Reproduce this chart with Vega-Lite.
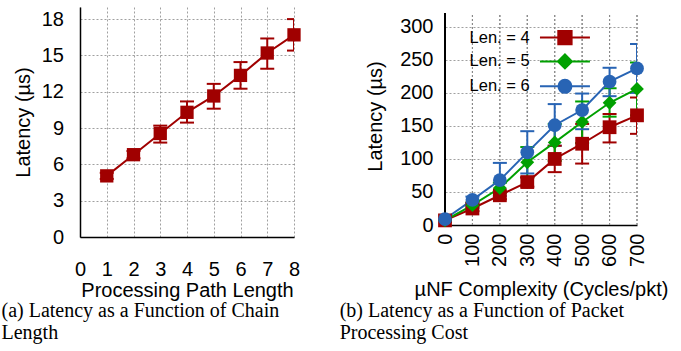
{
  "$schema": "https://vega.github.io/schema/vega-lite/v6.json",
  "background": "white",
  "padding": {"left": 1, "top": 7, "right": 5, "bottom": 2},
  "spacing": 38,
  "config": {
    "view": {"stroke": null},
    "font": "Liberation Sans",
    "axis": {
      "labelFont": "Liberation Sans", "labelFontSize": 20, "labelColor": "black",
      "titleFont": "Liberation Sans", "titleFontSize": 20, "titleFontWeight": "normal", "titleColor": "black",
      "domainColor": "black", "domainWidth": 1.5,
      "ticks": false, "tickSize": 0,
      "gridColor": "#888888", "gridDash": [2, 2], "gridWidth": 0.8, "gridOpacity": 1
    }
  },
  "hconcat": [
    {
      "width": 214,
      "height": 230,
      "title": {"text": ["(a) Latency as a Function of Chain", "Length"], "orient": "bottom", "anchor": "start", "frame": "group", "dx": -78.5, "offset": 1, "font": "Liberation Serif", "fontSize": 20, "fontWeight": "normal", "lineHeight": 22, "color": "black"},
      "data": {"values": [
        {"x": 1, "y": 5.05, "lo": 4.8, "hi": 5.3},
        {"x": 2, "y": 6.8, "lo": 6.5, "hi": 7.1},
        {"x": 3, "y": 8.55, "lo": 7.8, "hi": 9.2},
        {"x": 4, "y": 10.3, "lo": 9.45, "hi": 11.2},
        {"x": 5, "y": 11.65, "lo": 10.6, "hi": 12.65},
        {"x": 6, "y": 13.35, "lo": 12.25, "hi": 14.45},
        {"x": 7, "y": 15.2, "lo": 13.9, "hi": 16.4},
        {"x": 8, "y": 16.7, "lo": 15.4, "hi": 18.0}
      ]},
      "encoding": {
        "x": {"field": "x", "type": "quantitative", "scale": {"domain": [0, 8], "nice": false, "zero": false},
              "axis": {"title": "Processing Path Length", "values": [0, 1, 2, 3, 4, 5, 6, 7, 8], "format": "d", "tickCount": 20, "labelPadding": 22, "titlePadding": 1, "grid": true, "labelOverlap": false, "labelFlush": false, "labelBound": false}}
      },
      "layer": [
        {"mark": {"type": "rule", "color": "#a00000", "strokeWidth": 2, "clip": true},
         "encoding": {"y": {"field": "lo", "type": "quantitative", "scale": {"domain": [0, 19], "nice": false}, "axis": {"title": "Latency (µs)", "values": [0, 3, 6, 9, 12, 15, 18], "format": "d", "tickCount": 20, "labelPadding": 16.5, "titlePadding": 7.8, "grid": true, "labelOverlap": false, "labelFlush": false, "labelBound": false}}, "y2": {"field": "hi"}}},
        {"mark": {"type": "tick", "orient": "horizontal", "color": "#a00000", "thickness": 2, "size": 14, "opacity": 1, "clip": true},
         "encoding": {"y": {"field": "lo", "type": "quantitative", "title": "Latency (µs)"}}},
        {"mark": {"type": "tick", "orient": "horizontal", "color": "#a00000", "thickness": 2, "size": 14, "opacity": 1, "clip": true},
         "encoding": {"y": {"field": "hi", "type": "quantitative", "title": "Latency (µs)"}}},
        {"mark": {"type": "line", "color": "#a00000", "strokeWidth": 2},
         "encoding": {"y": {"field": "y", "type": "quantitative", "title": "Latency (µs)"}}},
        {"mark": {"type": "point", "shape": "square", "filled": true, "opacity": 1, "size": 177, "color": "#a00000"},
         "encoding": {"y": {"field": "y", "type": "quantitative", "title": "Latency (µs)"}}}
      ]
    },
    {
      "width": 192,
      "height": 218,
      "title": {"text": ["(b) Latency as a Function of Packet", "Processing Cost"], "orient": "bottom", "anchor": "start", "frame": "group", "dx": -105.3, "offset": 2, "font": "Liberation Serif", "fontSize": 20, "fontWeight": "normal", "lineHeight": 22, "color": "black"},
      "data": {"values": [
        {"series": "Len. = 4", "x": 0, "y": 7, "lo": 5, "hi": 9},
        {"series": "Len. = 4", "x": 100, "y": 25, "lo": 21, "hi": 29},
        {"series": "Len. = 4", "x": 200, "y": 45, "lo": 39, "hi": 51},
        {"series": "Len. = 4", "x": 300, "y": 65, "lo": 58, "hi": 72},
        {"series": "Len. = 4", "x": 400, "y": 100, "lo": 80, "hi": 120},
        {"series": "Len. = 4", "x": 500, "y": 123, "lo": 93, "hi": 153},
        {"series": "Len. = 4", "x": 600, "y": 148, "lo": 125, "hi": 168},
        {"series": "Len. = 4", "x": 700, "y": 166, "lo": 138, "hi": 193},
        {"series": "Len. = 5", "x": 0, "y": 7, "lo": 5, "hi": 9},
        {"series": "Len. = 5", "x": 100, "y": 30, "lo": 26, "hi": 34},
        {"series": "Len. = 5", "x": 200, "y": 56, "lo": 48, "hi": 64},
        {"series": "Len. = 5", "x": 300, "y": 95, "lo": 72, "hi": 118},
        {"series": "Len. = 5", "x": 400, "y": 125, "lo": 97, "hi": 153},
        {"series": "Len. = 5", "x": 500, "y": 156, "lo": 124, "hi": 187},
        {"series": "Len. = 5", "x": 600, "y": 185, "lo": 164, "hi": 207},
        {"series": "Len. = 5", "x": 700, "y": 206, "lo": 166, "hi": 246},
        {"series": "Len. = 6", "x": 0, "y": 9, "lo": 7, "hi": 11},
        {"series": "Len. = 6", "x": 100, "y": 38, "lo": 33, "hi": 43},
        {"series": "Len. = 6", "x": 200, "y": 68, "lo": 44, "hi": 94},
        {"series": "Len. = 6", "x": 300, "y": 110, "lo": 78, "hi": 142},
        {"series": "Len. = 6", "x": 400, "y": 151, "lo": 120, "hi": 183},
        {"series": "Len. = 6", "x": 500, "y": 174, "lo": 145, "hi": 199},
        {"series": "Len. = 6", "x": 600, "y": 217, "lo": 195, "hi": 238},
        {"series": "Len. = 6", "x": 700, "y": 237, "lo": 200, "hi": 274}
      ]},
      "resolve": {"scale": {"shape": "independent", "fill": "independent", "stroke": "independent"}},
      "encoding": {
        "x": {"field": "x", "type": "quantitative", "scale": {"domain": [0, 700], "nice": false, "zero": false},
              "axis": {"title": "µNF Complexity (Cycles/pkt)", "values": [0, 100, 200, 300, 400, 500, 600, 700], "format": "d", "tickCount": 20, "labelAngle": -90, "labelPadding": 8, "titlePadding": 13, "grid": false, "labelOverlap": false, "labelFlush": false, "labelBound": false}}
      },
      "layer": [
        {"mark": {"type": "rule", "color": "#888888", "strokeWidth": 0.8, "strokeDash": [2, 2]},
         "encoding": {
           "y": {"datum": 0, "type": "quantitative", "scale": {"domain": [0, 330], "nice": false}, "axis": {"title": "Latency (µs)", "values": [0, 50, 100, 150, 200, 250, 300], "format": "d", "tickCount": 20, "labelPadding": 12, "titlePadding": 14.6, "grid": true, "domain": false, "labelOverlap": false, "labelFlush": false, "labelBound": false}},
           "y2": {"datum": 320}}},
        {"mark": {"type": "rule", "color": "black", "strokeWidth": 1.5},
         "encoding": {"x": {"datum": 0, "type": "quantitative"}, "y": {"datum": 0, "type": "quantitative", "title": "Latency (µs)"}, "y2": {"datum": 320}}},
        {"mark": {"type": "rule", "strokeWidth": 2, "clip": true},
         "encoding": {
           "y": {"field": "lo", "type": "quantitative", "title": "Latency (µs)"},
           "y2": {"field": "hi"},
           "color": {"field": "series", "type": "nominal", "scale": {"domain": ["Len. = 4", "Len. = 5", "Len. = 6"], "range": ["#a00000", "#00a000", "#2864b4"]}, "legend": null}}},
        {"mark": {"type": "tick", "orient": "horizontal", "thickness": 2, "size": 14, "opacity": 1, "clip": true},
         "encoding": {"y": {"field": "lo", "type": "quantitative", "title": "Latency (µs)"}, "color": {"field": "series", "type": "nominal", "legend": null}}},
        {"mark": {"type": "tick", "orient": "horizontal", "thickness": 2, "size": 14, "opacity": 1, "clip": true},
         "encoding": {"y": {"field": "hi", "type": "quantitative", "title": "Latency (µs)"}, "color": {"field": "series", "type": "nominal", "legend": null}}},
        {"mark": {"type": "line", "strokeWidth": 2},
         "encoding": {"y": {"field": "y", "type": "quantitative", "title": "Latency (µs)"}, "color": {"field": "series", "type": "nominal", "legend": null}}},
        {"mark": {"type": "point", "filled": true, "opacity": 1, "size": 190},
         "encoding": {
           "y": {"field": "y", "type": "quantitative", "title": "Latency (µs)"},
           "shape": {"field": "series", "type": "nominal", "scale": {"domain": ["Len. = 4", "Len. = 5", "Len. = 6"], "range": ["square", "diamond", "circle"]}, "legend": null},
           "color": {"field": "series", "type": "nominal", "legend": null}}},
        {"transform": [{"filter": "false"}],
         "mark": {"type": "point", "filled": true, "opacity": 1, "strokeWidth": 2, "size": 196},
         "encoding": {
           "y": {"field": "y", "type": "quantitative", "title": "Latency (µs)"},
           "shape": {"field": "series", "type": "nominal",
             "scale": {"domain": ["Len. = 4", "Len. = 5", "Len. = 6"], "range": ["M-3.57,0H3.57M-0.95,-0.95H0.95V0.95H-0.95Z", "M-3.57,0H3.57M-1,0L0,-1L1,0L0,1Z", "M-3.57,0H3.57M-0.93,0A0.93,0.93,0,1,0,0.93,0A0.93,0.93,0,1,0,-0.93,0Z"]},
             "legend": {"orient": "none", "legendX": 111.7, "legendY": 22.3, "direction": "vertical", "title": null, "padding": 0, "symbolSize": 196, "symbolStrokeWidth": 2, "labelFont": "Liberation Sans", "labelFontSize": 16.5, "labelColor": "black", "labelAlign": "right", "labelOffset": -43.5, "rowPadding": 1.9}},
           "fill": {"field": "series", "type": "nominal",
             "scale": {"domain": ["Len. = 4", "Len. = 5", "Len. = 6"], "range": ["#a00000", "#00a000", "#2864b4"]},
             "legend": {"orient": "none", "legendX": 111.7, "legendY": 22.3, "direction": "vertical", "title": null, "padding": 0, "symbolSize": 196, "symbolStrokeWidth": 2, "labelFont": "Liberation Sans", "labelFontSize": 16.5, "labelColor": "black", "labelAlign": "right", "labelOffset": -43.5, "rowPadding": 1.9}},
           "stroke": {"field": "series", "type": "nominal",
             "scale": {"domain": ["Len. = 4", "Len. = 5", "Len. = 6"], "range": ["#a00000", "#00a000", "#2864b4"]},
             "legend": {"orient": "none", "legendX": 111.7, "legendY": 22.3, "direction": "vertical", "title": null, "padding": 0, "symbolSize": 196, "symbolStrokeWidth": 2, "labelFont": "Liberation Sans", "labelFontSize": 16.5, "labelColor": "black", "labelAlign": "right", "labelOffset": -43.5, "rowPadding": 1.9}}
         }}
      ]
    }
  ]
}
